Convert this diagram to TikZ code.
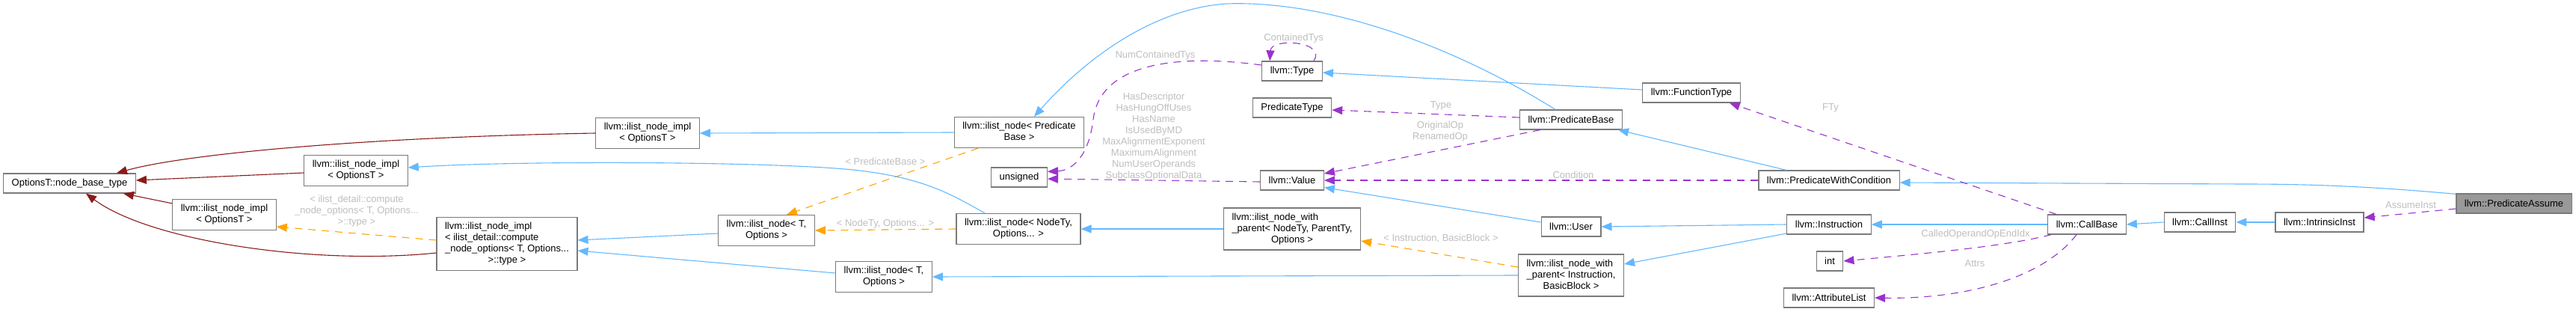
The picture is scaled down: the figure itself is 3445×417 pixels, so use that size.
\documentclass[tikz,border=0pt]{standalone}
\usepackage{fontspec}
\setmainfont{Liberation Sans}
\usepackage{tikz}
\usepackage{xcolor}
\usetikzlibrary{arrows.meta}

\definecolor{pubblue}{HTML}{63B8FF}
\definecolor{usepurple}{HTML}{9A32CD}
\definecolor{tmplorange}{HTML}{FFA500}
\definecolor{privred}{HTML}{8B1A1A}
\definecolor{boxgray}{HTML}{7A7A7A}
\definecolor{lblgray}{HTML}{BEBEBE}
\definecolor{hlfill}{HTML}{999999}

% lines left aligned, last one centred
\newcommand{\nlines}[2]{\begin{tabular}{@{}l@{}}#1\\\multicolumn{1}{@{}c@{}}{#2}\end{tabular}}

\begin{document}
\begin{tikzpicture}[x=1pt,y=-1pt,
  font=\fontsize{13}{15}\selectfont,
  cls/.style={draw=boxgray,line width=1.2pt,fill=white,inner xsep=11pt,inner ysep=5.5pt,minimum height=26pt},
  hl/.style={cls,fill=hlfill},
  rel/.style={line width=1.1pt,-{Triangle[length=\tiplen,width=\tipwid]}},
  pub/.style={rel,pubblue},
  priv/.style={rel,privred},
  tmpl/.style={rel,tmplorange,dash pattern=on \dashon off \dashoff},
  uses/.style={rel,usepurple,dash pattern=on \dashon off \dashoff},
  lbl/.style={text=lblgray,inner sep=0pt,align=center}]

% Parameters for drawing only
\def\tiplen{14pt}
\def\tipwid{11pt}
\def\dashon{10pt}
\def\dashoff{8pt}

\useasboundingbox (0,0) rectangle (3445,417);

% Classes
\node[cls] (nbt) at (93,245) {OptionsT::node\_base\_type};
\node[cls] (implA) at (300,287) {\nlines{llvm::ilist\_node\_impl}{< OptionsT >}};
\node[cls] (implB) at (476,228) {\nlines{llvm::ilist\_node\_impl}{< OptionsT >}};
\node[cls] (implC) at (866,178) {\nlines{llvm::ilist\_node\_impl}{< OptionsT >}};
\node[cls] (implX) at (678,326) {\nlines{llvm::ilist\_node\_impl\\< ilist\_detail::compute\\\_node\_options< T, Options...}{>::type >}};
\node[cls] (nodeTA) at (1025,308) {\nlines{llvm::ilist\_node< T,}{Options >}};
\node[cls] (nodeTB) at (1182,370) {\nlines{llvm::ilist\_node< T,}{Options >}};
\node[cls] (nodePB) at (1363,177) {\nlines{llvm::ilist\_node< Predicate}{Base >}};
\node[cls] (unsgn) at (1363,237) {unsigned};
\node[cls] (nodeNT) at (1362,306) {\nlines{llvm::ilist\_node< NodeTy,}{Options... >}};
\node[cls] (ty) at (1728,95) {llvm::Type};
\node[cls] (predty) at (1728,144) {PredicateType};
\node[cls] (val) at (1728,241) {llvm::Value};
\node[cls] (nwpT) at (1728,306) {\nlines{llvm::ilist\_node\_with\\\_parent< NodeTy, ParentTy,}{Options >}};
\node[cls] (pbase) at (2101,160) {llvm::PredicateBase};
\node[cls] (usr) at (2101,303) {llvm::User};
\node[cls] (nwpI) at (2101,368) {\nlines{llvm::ilist\_node\_with\\\_parent< Instruction,}{BasicBlock >}};
\node[cls] (fty) at (2262,124) {llvm::FunctionType};
\node[cls] (pwc) at (2446,241) {llvm::PredicateWithCondition};
\node[cls] (inst) at (2446,300) {llvm::Instruction};
\node[cls] (int) at (2447,349) {int};
\node[cls] (attr) at (2446,398) {llvm::AttributeList};
\node[cls] (cb) at (2791,300) {llvm::CallBase};
\node[cls] (ci) at (2942,297) {llvm::CallInst};
\node[cls] (ii) at (3102,297) {llvm::IntrinsicInst};
\node[hl] (pa) at (3362,272) {llvm::PredicateAssume};

% Private inheritance
\draw[priv] (implC.west) .. controls (500,183) and (250,205) .. ([xshift=-26pt]nbt.north east);
\draw[priv] ([yshift=-3pt]implB.west) -- ([yshift=4pt]nbt.east);
\draw[priv] ([yshift=-6pt]implA.north west) -- ([xshift=-17pt]nbt.south east);
\draw[priv] ([yshift=-12pt]implX.west) .. controls (420,355) and (200,322) .. ([xshift=22pt]nbt.south);

% Template instances
\draw[tmpl] ([yshift=5pt]implX.west) -- ([yshift=-16pt]implA.east)
  node[lbl] (lX) at (477,282) {< ilist\_detail::compute\\\_node\_options< T, Options...\\>::type >};
\draw[tmpl] ([xshift=-55pt]nodePB.south) -- ([xshift=27pt]nodeTA.north)
  node[lbl] (lPB) at (1184,216) {< PredicateBase >};
\draw[tmpl] (nodeNT.west) -- (nodeTA.east)
  node[lbl] (lNT) at (1184,299) {< NodeTy, Options... >};
\draw[tmpl] ([yshift=11pt]nwpI.west) -- ([yshift=-16pt]nwpT.east)
  node[lbl] (lIB) at (1927,319) {< Instruction, BasicBlock >};

% Public inheritance
\draw[pub] ([yshift=-4pt]nodeTA.west) -- ([yshift=5pt]implX.east);
\draw[pub] ([yshift=5pt]nodeTB.west) -- ([yshift=-9pt]implX.east);
\draw[pub] ([xshift=-45pt]nodeNT.north) .. controls (1265,255) and (1230,238) .. (1150,228)
  .. controls (1050,216) and (700,214) .. ([yshift=4pt]implB.east);
\draw[pub] (nodePB.west) -- (implC.east);
\draw[pub] (nwpI.west) -- (nodeTB.east);
\draw[pub] (nwpT.west) -- (nodeNT.east);
\draw[pub] ([xshift=-21pt]pbase.north) .. controls (1950,65) and (1780,0) .. (1640,5)
  .. controls (1540,12) and (1450,80) .. ([xshift=20pt]nodePB.north);
\draw[pub] ([yshift=4pt]fty.west) -- ([yshift=-2pt]ty.east);
\draw[pub] ([xshift=-57pt]pwc.north) -- ([xshift=-6pt]pbase.south east);
\draw[pub] ([yshift=-1pt]pa.north west) .. controls (3180,250) and (3100,246) .. (3000,246)
  -- ([yshift=-3pt]pwc.east);
\draw[pub] ([yshift=6pt]usr.west) -- ([yshift=4pt]val.south east);
\draw[pub] (inst.west) -- (usr.east);
\draw[pub] ([yshift=-12pt]inst.west) -- ([yshift=15pt]nwpI.east);
\draw[pub] (cb.west) -- (inst.east);
\draw[pub] (ci.west) -- (cb.east);
\draw[pub] (ii.west) -- (ci.east);

% Members
\draw[uses] ([xshift=-12pt]ty.north east) .. controls (1775,55) and (1700,50) .. ([xshift=11pt]ty.north west)
  node[lbl] (lCT) at (1730,51) {ContainedTys};
\draw[uses] ([yshift=8pt]ty.west) .. controls (1560,70) and (1470,90) .. (1462,160)
  .. controls (1455,215) and (1430,228) .. ([yshift=-6pt]unsgn.north east)
  node[lbl] (lNCT) at (1545,74) {NumContainedTys};
\draw[uses] ([yshift=-2pt]val.west) -- ([yshift=-2pt]unsgn.east)
  node[lbl] (lFlags) at (1543,183) {HasDescriptor\\HasHungOffUses\\HasName\\IsUsedByMD\\MaxAlignmentExponent\\MaximumAlignment\\NumUserOperands\\SubclassOptionalData};
\draw[uses] ([yshift=3pt]pbase.west) -- ([yshift=-3pt]predty.east)
  node[lbl] (lType) at (1927,141) {Type};
\draw[uses] ([xshift=28pt]pbase.south west) -- ([yshift=9pt]val.east)
  node[lbl] (lOp) at (1926,176) {OriginalOp\\RenamedOp};
\draw[uses] (pwc.west) -- (val.east)
  node[lbl] (lCond) at (2104,234) {Condition};
\draw[uses] ([xshift=-41pt]cb.north) -- ([xshift=-15pt]fty.south east)
  node[lbl] (lFTy) at (2448,144) {FTy};
\draw[uses] ([xshift=5pt]cb.south west) .. controls (2680,330) and (2560,340) .. (int.east)
  node[lbl] (lCalled) at (2642,313) {CalledOperandOpEndIdx};
\draw[uses] ([xshift=-14pt]cb.south) .. controls (2730,375) and (2620,400) .. (attr.east)
  node[lbl] (lAttrs) at (2641,352) {Attrs};
\draw[uses] ([yshift=-7pt]pa.west) -- ([yshift=6pt]ii.east)
  node[lbl] (lAssume) at (3224,274) {AssumeInst};

\end{tikzpicture}
\end{document}
